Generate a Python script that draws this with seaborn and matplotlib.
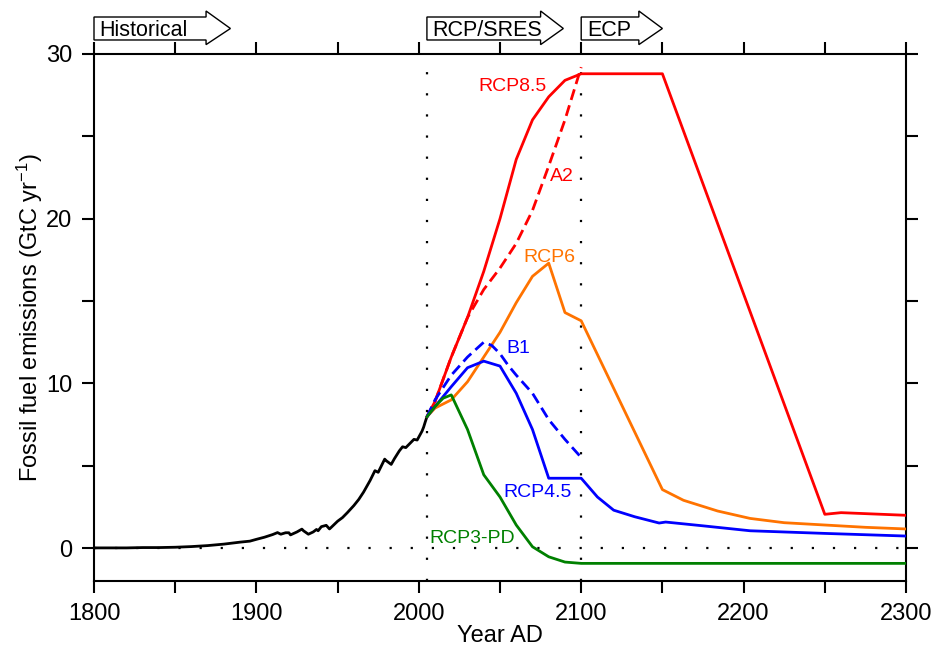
import numpy as np
import pandas as pd
import matplotlib
matplotlib.use("Agg")
import matplotlib.pyplot as plt
import matplotlib.transforms as mtransforms
from matplotlib.patches import Polygon
from matplotlib.ticker import MultipleLocator
import seaborn as sns

# ---------------- data ----------------
hist_years = [1800, 1810, 1820, 1830, 1840, 1850, 1860, 1870, 1880, 1890, 1896, 1900, 1905,
              1910, 1913, 1915, 1918, 1920, 1921, 1925, 1928, 1929, 1932, 1935, 1937,
              1938, 1940, 1943, 1945, 1946, 1950, 1953, 1956, 1960, 1963, 1966, 1970,
              1973, 1975, 1979, 1980, 1983, 1985, 1988, 1990, 1992, 1995, 1997, 1999,
              2000, 2002, 2003, 2004, 2005]
hist_vals = [0.01, 0.01, 0.01, 0.03, 0.03, 0.05, 0.09, 0.15, 0.24, 0.36, 0.42, 0.53, 0.66,
             0.82, 0.94, 0.84, 0.93, 0.93, 0.80, 0.98, 1.15, 1.05, 0.84, 0.98, 1.13,
             1.05, 1.30, 1.38, 1.16, 1.25, 1.63, 1.85, 2.15, 2.58, 2.95, 3.40, 4.10,
             4.70, 4.60, 5.40, 5.30, 5.08, 5.43, 5.90, 6.15, 6.10, 6.40, 6.60, 6.56,
             6.74, 7.10, 7.35, 7.67, 7.97]

rcp85_years = [2005, 2010, 2020, 2030, 2040, 2050, 2060, 2070, 2080, 2090, 2100, 2150, 2250, 2260, 2300]
rcp85_vals = [7.97, 8.9, 11.6, 14.0, 16.8, 20.0, 23.6, 26.0, 27.4, 28.4, 28.8, 28.8, 2.05, 2.15, 1.99]

a2_years = [2005, 2010, 2020, 2030, 2040, 2050, 2060, 2070, 2080, 2090, 2100]
a2_vals = [7.97, 8.9, 11.6, 14.0, 15.7, 17.0, 18.5, 20.5, 23.2, 26.0, 29.2]

rcp6_years = [2005, 2010, 2020, 2030, 2040, 2050, 2060, 2070, 2080, 2090, 2100, 2150,
              2163, 2184, 2204, 2225, 2250, 2275, 2300]
rcp6_vals = [7.97, 8.5, 9.0, 10.1, 11.6, 13.1, 14.9, 16.5, 17.3, 14.3, 13.8, 3.55,
             2.9, 2.25, 1.8, 1.54, 1.40, 1.26, 1.16]

rcp45_years = [2005, 2010, 2020, 2030, 2040, 2050, 2060, 2070, 2080, 2090, 2100,
               2110, 2120, 2133, 2148, 2152, 2175, 2204, 2250, 2300]
rcp45_vals = [7.97, 8.6, 9.8, 10.95, 11.35, 11.05, 9.4, 7.2, 4.24, 4.24, 4.24,
              3.1, 2.3, 1.9, 1.52, 1.58, 1.35, 1.05, 0.89, 0.73]

b1_years = [2005, 2010, 2020, 2030, 2040, 2045, 2050, 2055, 2060, 2070, 2080, 2090, 2100]
b1_vals = [7.97, 9.0, 10.5, 11.6, 12.5, 12.3, 11.8, 11.1, 10.5, 9.4, 7.8, 6.6, 5.5]

rcp3_years = [2005, 2010, 2015, 2020, 2030, 2040, 2050, 2060, 2070, 2080, 2090, 2100, 2300]
rcp3_vals = [7.97, 8.6, 9.1, 9.3, 7.2, 4.45, 3.1, 1.4, 0.08, -0.53, -0.85, -0.93, -0.93]

series = [
    ("RCP8.5", rcp85_years, rcp85_vals, "#ff0000", "-"),
    ("A2", a2_years, a2_vals, "#ff0000", (0, (4, 2))),
    ("RCP6", rcp6_years, rcp6_vals, "#ff7300", "-"),
    ("RCP4.5", rcp45_years, rcp45_vals, "#0000ff", "-"),
    ("B1", b1_years, b1_vals, "#0000ff", (0, (4, 2))),
    ("RCP3-PD", rcp3_years, rcp3_vals, "#008000", "-"),
]

# label positions (year, value)
labels = {
    "RCP8.5": (2057.7, 27.75),
    "A2": (2088.0, 22.3),
    "RCP6": (2080.2, 17.38),
    "B1": (2061.4, 11.86),
    "RCP4.5": (2073.2, 3.08),
    "RCP3-PD": (2032.8, 0.285),
}

phases = [  # name, start, body end, tip
    ("Historical", 1800, 1869, 1884),
    ("RCP/SRES", 2005, 2075, 2089),
    ("ECP", 2100, 2135.5, 2150),
]

x_ticks = [1800, 1900, 2000, 2100, 2200, 2300]
y_ticks = [0, 10, 20, 30]

# ---------------- style ----------------
sns.set_style("ticks")
plt.rcParams["font.family"] = ["Liberation Sans", "DejaVu Sans"]
plt.rcParams["mathtext.default"] = "regular"
for k in ["text.color", "axes.labelcolor", "xtick.color", "ytick.color",
          "xtick.labelcolor", "ytick.labelcolor", "axes.edgecolor"]:
    plt.rcParams[k] = "black"

fig = plt.figure(figsize=(9.35, 6.53), dpi=100)
ax = fig.add_axes([94 / 935, 1 - 581 / 653, (906 - 94) / 935, (581 - 54) / 653])

ax.set_xlim(1800, 2300)
ax.set_ylim(-2, 30)

# reference dotted lines
dot = dict(color="black", lw=1.6, linestyle=(0, (1, 8.5)), zorder=1)
ax.axhline(0, **dot)
ax.axvline(2005, **dot)
ax.axvline(2100, **dot)

# historical
hdf = pd.DataFrame({"year": hist_years, "val": hist_vals})
sns.lineplot(data=hdf, x="year", y="val", ax=ax, color="black", lw=2.0, zorder=3)

for name, yrs, vals, col, ls in series:
    df = pd.DataFrame({"year": yrs, "val": vals})
    sns.lineplot(data=df, x="year", y="val", ax=ax, color=col, lw=2.0,
                 linestyle=ls, zorder=3)
    lx, ly = labels[name]
    ax.text(lx, ly, name, color=col, fontsize=14, ha="center", va="baseline")

# axes styling
for sp in ax.spines.values():
    sp.set_visible(True)
    sp.set_linewidth(1.5)
    sp.set_color("black")

ax.set_xticks(x_ticks)
ax.xaxis.set_minor_locator(MultipleLocator(50))
ax.set_yticks(y_ticks)
ax.yaxis.set_minor_locator(MultipleLocator(5))
ax.tick_params(which="both", direction="out", length=8.5, width=1.5,
               top=True, right=True, labelsize=17, color="black", labelcolor="black")
ax.tick_params(which="major", pad=7)
ax.set_xlabel("Year AD", fontsize=17, labelpad=0, color="black")
ax.set_ylabel("Fossil fuel emissions (GtC yr$^{-1}$)", fontsize=17, labelpad=1,
              color="black")

# phase arrows above the plot
trans = mtransforms.blended_transform_factory(ax.transData, ax.transAxes)
box_top, box_bot = 1.0702, 1.0266
head_top, head_bot = 1.0816, 1.0178
mid = (box_top + box_bot) / 2
for name, x0, xb, xt in phases:
    verts = [(x0, box_bot), (x0, box_top), (xb, box_top), (xb, head_top),
             (xt, mid), (xb, head_bot), (xb, box_bot)]
    poly = Polygon(verts, closed=True, facecolor="white", edgecolor="black",
                   lw=1.0, transform=trans, clip_on=False, zorder=5)
    ax.add_patch(poly)
    ax.annotate(name, xy=(x0, 1.0335), xycoords=trans, xytext=(4, 0),
                textcoords="offset points", fontsize=15.5, ha="left",
                va="baseline", zorder=6, annotation_clip=False, color="black")

fig.savefig("out.png", dpi=100)
